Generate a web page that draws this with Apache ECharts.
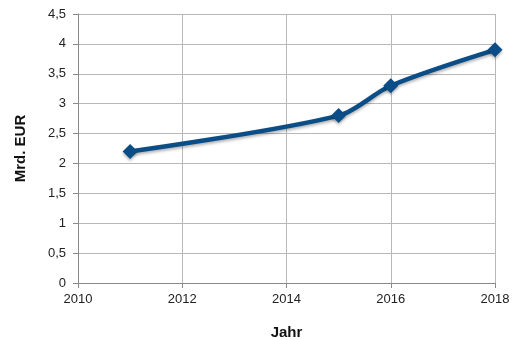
<!DOCTYPE html>
<html>
<head>
<meta charset="utf-8">
<script src="https://cdn.jsdelivr.net/npm/echarts@6/dist/echarts.min.js"></script>
<style>
  html, body { margin: 0; padding: 0; background: #fff; }
  #chart { width: 513px; height: 340px; }
</style>
</head>
<body>
<div id="chart"></div>
<script>
// Umsatz in Mrd. EUR je Jahr
const years = [2011, 2015, 2016, 2018];
const values = [2.2, 2.8, 3.3, 3.9];
const xTicks = [2010, 2012, 2014, 2016, 2018];
const yTicks = [0, 0.5, 1, 1.5, 2, 2.5, 3, 3.5, 4, 4.5];

const fmtDe = v => String(v).replace('.', ',');
const font = '"Liberation Sans", Arial, sans-serif';

const chart = echarts.init(document.getElementById('chart'), null, { renderer: 'canvas' });
chart.setOption({
  animation: false,
  grid: { left: 78, right: 18, top: 14, bottom: 57, containLabel: false, outerBoundsMode: 'none' },
  xAxis: {
    type: 'value',
    min: xTicks[0],
    max: xTicks[xTicks.length - 1],
    interval: 2,
    name: 'Jahr',
    nameLocation: 'middle',
    nameGap: 42,
    nameTextStyle: { fontFamily: font, fontWeight: 'bold', fontSize: 15, color: '#111' },
    axisLine: { lineStyle: { color: '#8a8a8a', width: 1 } },
    axisTick: { show: true, length: 5, lineStyle: { color: '#8a8a8a' } },
    axisLabel: { fontFamily: font, fontSize: 13, color: '#222', margin: 10, formatter: v => String(v) },
    splitLine: { show: true, lineStyle: { color: '#b8b8b8', width: 1 } }
  },
  yAxis: {
    type: 'value',
    min: yTicks[0],
    max: yTicks[yTicks.length - 1],
    interval: 0.5,
    name: 'Mrd. EUR',
    nameLocation: 'middle',
    nameGap: 50,
    nameRotate: 90,
    nameTextStyle: { fontFamily: font, fontWeight: 'bold', fontSize: 15, color: '#111' },
    axisLine: { show: true, lineStyle: { color: '#8a8a8a', width: 1 } },
    axisTick: { show: true, length: 5, lineStyle: { color: '#8a8a8a' } },
    axisLabel: { fontFamily: font, fontSize: 13, color: '#222', margin: 12, formatter: fmtDe },
    splitLine: { show: true, lineStyle: { color: '#b8b8b8', width: 1 } }
  },
  series: [{
    type: 'line',
    data: years.map((y, i) => [y, values[i]]),
    smooth: 0.3,
    symbol: 'diamond',
    symbolSize: 15,
    showAllSymbol: true,
    lineStyle: {
      color: '#0b4d86', width: 4.5,
      shadowColor: 'rgba(0,0,0,0.3)', shadowBlur: 3, shadowOffsetY: 2
    },
    itemStyle: {
      color: '#0b4d86', borderWidth: 0,
      shadowColor: 'rgba(0,0,0,0.3)', shadowBlur: 3, shadowOffsetY: 2
    }
  }]
});
</script>
</body>
</html>
